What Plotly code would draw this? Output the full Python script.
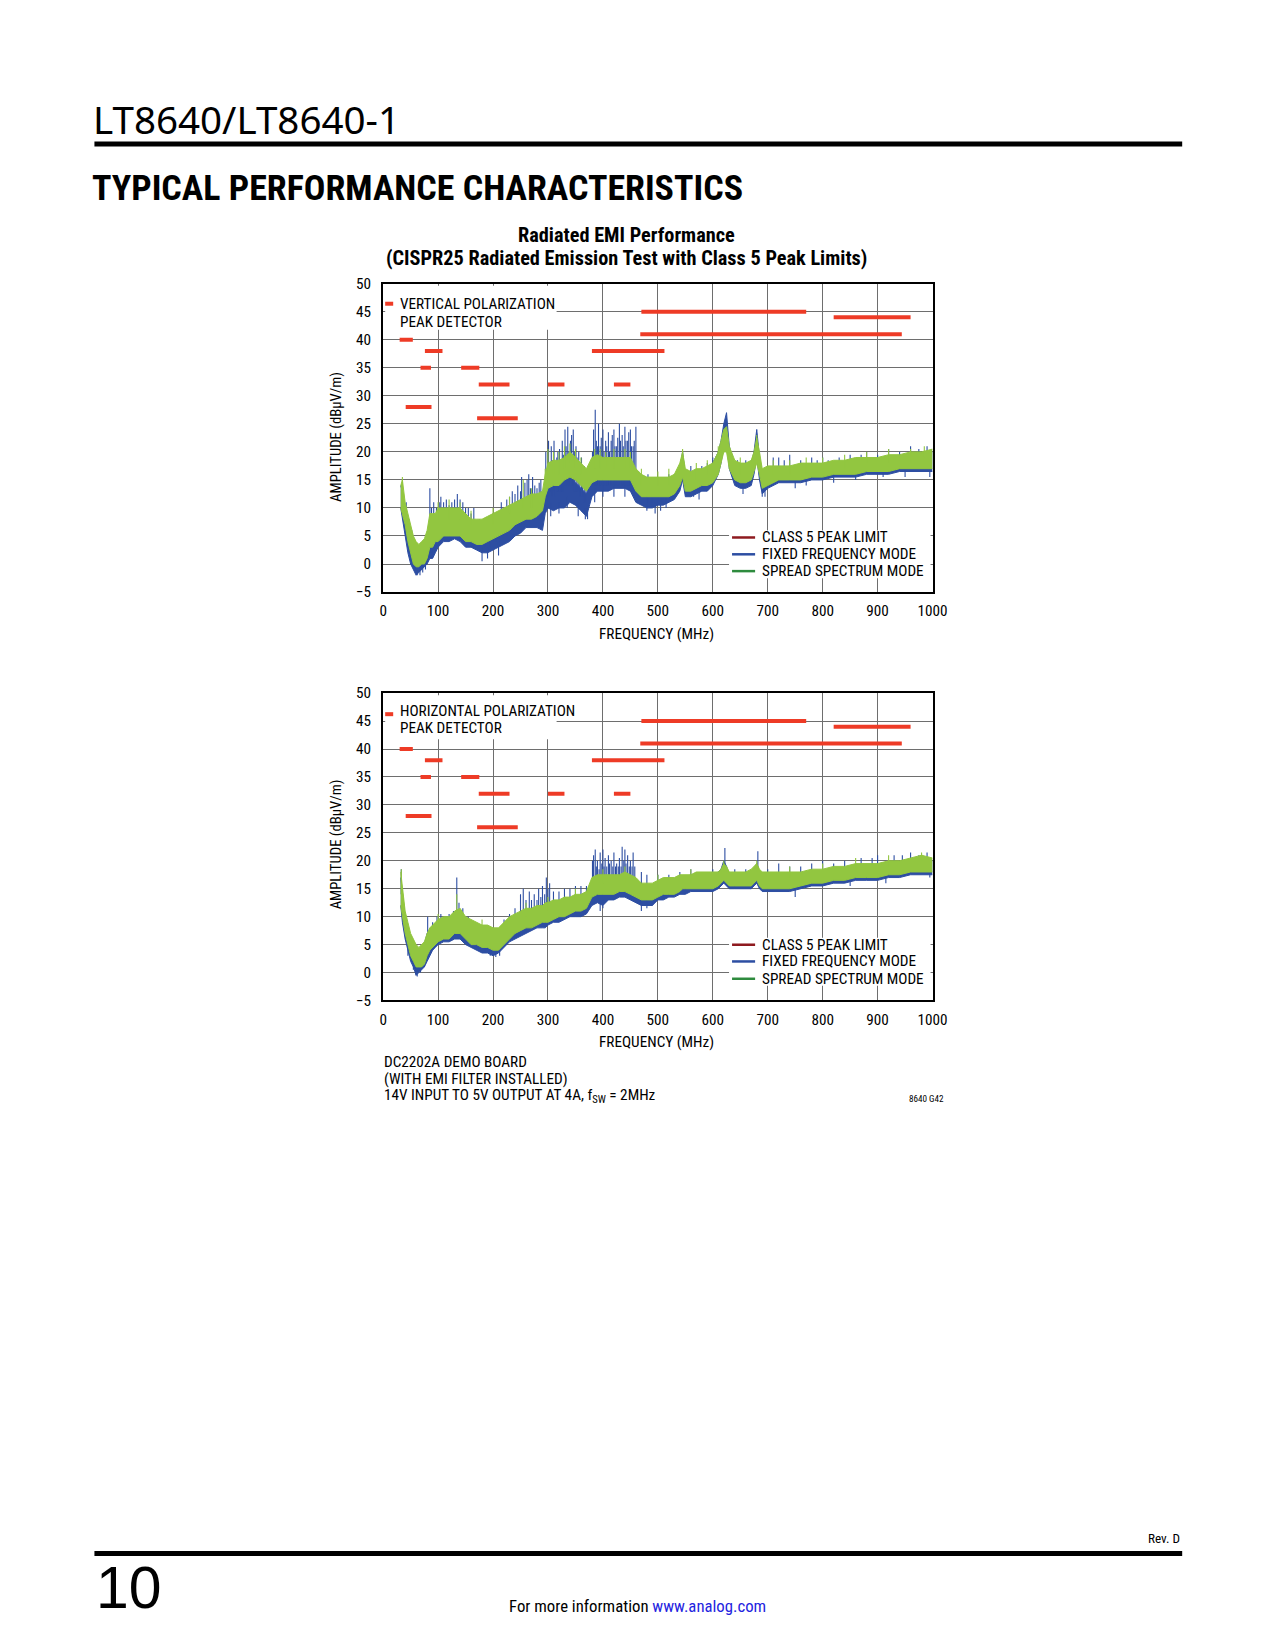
import plotly.graph_objects as go

# ---------------- data ----------------
FREQ = [32, 35, 40, 45, 50, 55, 60, 65, 70, 75, 80, 85, 90, 95, 100,
        110, 120, 130, 140, 150, 160, 170, 180, 190, 200, 210, 220, 230, 240, 250, 260, 270, 280, 290,
        295, 300, 310, 320, 330, 340, 350, 360, 370, 380, 390, 400, 410, 420, 430, 440, 450, 460,
        470, 480, 490, 500, 510, 520, 530, 540, 545, 550, 560, 570, 580, 590, 600, 610, 615, 620, 625, 630,
        640, 650, 660, 670, 675, 680, 685, 690, 700,
        720, 740, 760, 780, 800, 820, 840, 860, 880, 900, 920, 940, 960, 980, 1000]

# Vertical polarization - spread spectrum (green) envelope
V_SS_LO = [10, 9, 7, 4, 2, 0, -0.5, -0.5, 0, 0, 1, 3, 3, 4, 4,
           5, 5, 5, 5, 4, 4, 3.5, 3.5, 4, 4.5, 5, 5.5, 6, 7, 7.5, 8, 8, 8.5, 9.5,
           12, 13.5, 14, 14, 15, 15.5, 15, 14, 13, 14.5, 15, 15, 15, 15, 15, 15, 15, 13,
           12, 12, 12, 12, 12, 12, 12.5, 14, 15.5, 13, 13, 13.5, 14, 14, 14.5, 16, 18, 20, 20, 17,
           15, 14.5, 14.5, 15, 16.5, 18, 16, 13.5, 14,
           15, 15, 15, 15.5, 15.5, 16, 16, 16, 16.5, 16.5, 16.5, 17, 17, 17, 17]
V_SS_HI = [14, 15, 11, 9, 7, 5, 4, 3.5, 4, 4.5, 6, 9, 9, 9, 10,
           10, 10, 10, 10, 9, 8, 8, 8, 8.5, 9, 9.5, 10, 10.5, 11, 11.5, 12, 12.5, 12.5, 13,
           16, 18, 18.5, 18.5, 19, 20, 19, 18, 17, 19, 19.5, 19, 19, 19, 19, 19, 19, 17,
           16, 15.5, 15.5, 15.5, 15.5, 15.5, 16, 18, 20, 17, 16.5, 17, 17, 17.5, 18, 20, 22, 24, 24.5, 21,
           18.5, 18, 18, 18.5, 20, 22.5, 20, 17, 17.5,
           17.5, 17.5, 18, 18, 18, 18.5, 18.5, 19, 19, 19, 19.5, 19.5, 20, 20, 20.5]
# Vertical polarization - fixed frequency (blue) envelope
V_FF_LO = [10, 8, 5, 2, 0, -1, -2, -1.5, -1, -0.5, 0, 1, 1, 2, 3,
           4, 4, 4.5, 4, 3, 3, 2.5, 2, 2, 2.5, 3, 3.5, 4, 5, 5.5, 6.5, 6.5, 6.5, 6,
           9, 10, 9.5, 10, 10, 11, 10.5, 9.5, 8.5, 12, 13, 13, 13, 13.5, 13.5, 13.5, 13, 11,
           10.5, 10, 10, 10.5, 10.5, 11, 11.5, 13, 15, 12, 12, 12.5, 13, 13, 14, 16, 18, 21, 22, 17,
           14, 13.5, 13.5, 14, 16, 19, 15, 12.5, 13.5,
           14.5, 14.5, 14.5, 15, 15, 15.5, 15.5, 15.5, 16, 16, 16, 16.5, 16.5, 16.5, 16.5]
V_FF_HI = [14, 13, 10, 7, 5, 3, 2, 2, 2.5, 3, 4, 8, 7, 8, 9,
           9.5, 9.5, 10, 9.5, 8.5, 7.5, 6.5, 5.5, 5.5, 6, 6.5, 7, 8, 8.5, 9, 9.5, 9.5, 9.5, 9.5,
           14, 15, 14, 14.5, 15, 15.5, 14.5, 13.5, 12.5, 16, 16.5, 16.5, 16, 16.5, 16.5, 16.5, 16, 15,
           14, 13.5, 13, 13.5, 13.5, 14, 15, 17, 20, 16, 15.5, 16, 16.5, 17, 18, 20, 22, 25, 27, 21,
           17.5, 17, 17, 18, 20, 24, 19, 16, 17,
           17, 17, 17.5, 17.5, 17.5, 18, 18, 18.5, 18.5, 18.5, 19, 19, 19.5, 19.5, 20]

# Horizontal polarization - spread spectrum (green) envelope
H_SS_LO = [12, 10, 7, 5, 3, 2, 1, 1, 1, 1.5, 3, 4, 4.5, 5, 5.5,
           6, 6, 7, 7, 6, 5, 5, 4.5, 4.5, 4, 4, 5, 6, 7, 7.5, 8, 8, 8.5, 9,
           9, 9, 9.5, 10, 10, 10.5, 11, 11, 11.5, 13.5, 14, 14, 14, 14, 14.5, 14.5, 14, 13.5,
           13, 13, 13, 13.5, 14, 14, 14, 14.5, 15, 15, 15, 15, 15, 15, 15, 15.5, 16, 16.5, 16, 15.5,
           15.5, 15.5, 15.5, 15.5, 16, 16.5, 15.5, 15, 15,
           15, 15, 15.5, 16, 16, 16.5, 16.5, 17, 17, 17, 17.5, 17.5, 18, 18, 18]
H_SS_HI = [18, 15, 11, 9, 7, 6, 5, 4.5, 5, 5.5, 7, 8, 8.5, 9, 9.5,
           10, 10, 11, 11.5, 10, 9.5, 9, 8.5, 8.5, 8, 8, 9, 10, 10.5, 11, 11.5, 11.5, 12, 12,
           12.5, 12.5, 13, 13, 13.5, 13.5, 14, 14, 14.5, 17, 17.5, 17.5, 17.5, 17.5, 17.5, 18, 17.5, 17,
           16, 16, 16, 16.5, 17, 17, 17, 17.5, 17.5, 17.5, 17.5, 18, 18, 18, 18, 18, 18.5, 19.5, 19, 18,
           18, 18, 18, 18.5, 19, 19.5, 18.5, 18, 18,
           18, 18, 18, 18.5, 18.5, 19, 19, 19.5, 19.5, 19.5, 20, 20, 20.5, 21, 20.5]
# Horizontal polarization - fixed frequency (blue) envelope
H_FF_LO = [12, 9, 6, 4, 2, 1, -0.5, 0, 0.5, 1, 2, 3, 4, 4.5, 5,
           5.5, 5.5, 6, 6, 5, 4.5, 4, 3.5, 3.5, 3, 3.5, 4.5, 5.5, 6, 6.5, 7, 7.5, 8, 8,
           8, 8.5, 9, 9, 9.5, 10, 10, 10, 10.5, 12, 12.5, 12, 13, 13, 13.5, 13.5, 13, 12.5,
           12, 12, 12, 13, 13, 13.5, 13.5, 14, 14, 14, 14.5, 14.5, 14.5, 14.5, 14.5, 15, 15.5, 16, 15.5, 15,
           15, 15, 15, 15, 15.5, 16, 15, 14.5, 14.5,
           14.5, 14.5, 15, 15.5, 15.5, 16, 16, 16.5, 16.5, 16.5, 17, 17, 17.5, 17.5, 17.5]
H_FF_HI = [17, 14, 10, 8, 6, 5, 3.5, 3.5, 4, 5, 7, 7.5, 8, 8.5, 9,
           9.5, 9.5, 10.5, 10.5, 9, 8.5, 8, 7.5, 7.5, 7, 7, 8.5, 9.5, 10, 10.5, 11, 11, 11.5, 11.5,
           12, 12, 12, 12.5, 13, 13, 13.5, 13.5, 14, 16, 16.5, 16, 16.5, 17, 17, 17, 16.5, 16,
           15, 15, 15.5, 16, 16.5, 16.5, 16.5, 17, 17, 17, 17.5, 17.5, 17.5, 17.5, 17.5, 18, 18.5, 20, 19, 17.5,
           17.5, 17.5, 17.5, 18, 18.5, 19.5, 18, 17.5, 17.5,
           17.5, 17.5, 17.5, 18, 18, 18.5, 18.5, 19, 19, 19, 19.5, 19.5, 20, 20.5, 20]

# Narrow emission spikes / dips: (frequency MHz, foot dB, tip dB)
V_FF_SPIKES = [
    (42, 6, 11), (47, 3, 8), (52, 1, 6), (57, -1, 4), (62, -2, 3), (67, -2, 2.5), (72, -1.5, 3), (77, -1, 4),
    (85, 2, 13.5), (88, 2, 10), (92, 3, 11), (97, 4, 10),
    (103, 6, 11), (105, 6, 12), (110, 7, 11), (115, 7, 11.5), (120, 7, 10.5), (125, 7, 11), (130, 7, 11.5),
    (135, 8, 12.5), (140, 8, 11.5), (145, 7, 11), (150, 6, 10), (155, 6, 10), (160, 5, 9), (165, 5, 10),
    (175, 4, 8), (185, 3, 7.5), (195, 3, 8), (200, 4, 9), (205, 4, 8.5), (215, 5, 11), (220, 5, 10),
    (225, 5, 11.5), (230, 6, 12), (235, 6, 13), (240, 7, 12.5), (245, 7, 14), (250, 7, 13), (252, 8, 15.5),
    (258, 8, 14.5), (262, 8, 15), (265, 8, 16), (268, 8, 13.5), (272, 8, 15.5), (276, 8, 14), (280, 8, 13.5),
    (284, 8, 14.5), (287, 8, 15), (291, 8, 13),
    (180, 0.5, 3), (190, 1, 3), (210, 1.5, 4),
    (296, 12, 20), (298, 12, 17), (301, 13, 22), (303, 13, 18), (306, 13, 21), (308, 12, 18.5), (311, 13, 22),
    (313, 12, 17.5), (316, 13, 19), (318, 13, 20), (321, 13, 20.5), (323, 13, 18), (326, 13, 22), (328, 13, 19.5),
    (331, 14, 24), (333, 14, 21), (336, 14, 24.5), (338, 14, 20), (341, 14, 22), (343, 14, 23), (346, 14, 24),
    (348, 13, 20), (351, 13, 21), (353, 13, 19), (356, 13, 20), (358, 12, 18), (361, 12, 19), (363, 12, 17),
    (366, 11, 17.5), (369, 11, 16),
    (305, 8.5, 11), (320, 9, 11), (335, 10, 12), (355, 8.5, 11), (368, 8, 10), (372, 8, 10),
    (381, 14, 20), (383, 14, 24), (386, 14, 27.5), (388, 14, 22), (390, 14, 21), (392, 14, 25), (395, 14, 21),
    (397, 14, 22.5), (400, 14, 24), (402, 14, 20), (405, 14, 22), (407, 14, 21), (410, 14, 23.5), (412, 14, 20),
    (415, 14, 22), (417, 14, 23), (420, 14, 24), (422, 14, 21), (425, 14, 21), (427, 14, 22.5), (430, 14, 25),
    (432, 14, 22), (435, 14, 23), (437, 14, 21), (440, 14, 24.5), (442, 14, 22), (445, 14, 22), (447, 14, 23.5),
    (450, 14, 24), (452, 14, 21), (455, 14, 21), (457, 14, 22), (460, 14, 24.5),
    (385, 11, 13.5), (400, 12, 14), (420, 12, 14), (440, 12, 14),
    (465, 12, 16.5), (470, 12, 16), (476, 12, 15), (482, 11, 16), (490, 11, 14.5), (500, 11, 15.5),
    (510, 11, 15), (520, 12, 16), (530, 12, 16), (560, 14, 17.5), (565, 12, 16.5), (570, 14, 17),
    (580, 15, 17.5), (590, 15, 18), (600, 16, 19),
    (480, 9.5, 12), (495, 9, 11), (505, 9.5, 12), (515, 10, 12), (575, 11.5, 13.5),
    (645, 14, 18.5), (655, 12.5, 15), (660, 15, 18.5), (690, 12, 14), (695, 12, 14.5),
    (710, 16, 19), (720, 16, 19), (730, 15, 18.5), (740, 16, 19.5), (750, 13.5, 15.5), (760, 16, 18.5),
    (770, 14, 16), (780, 16, 19), (790, 16, 18.5), (800, 16, 19), (810, 16, 18.5), (820, 14.5, 16),
    (830, 17, 19), (850, 17, 19.5), (860, 15, 16.5), (870, 17, 19.5), (880, 17, 20), (900, 17, 19.5),
    (910, 15.5, 17), (920, 17.5, 20.5), (940, 18, 20), (950, 15.5, 17), (960, 18, 21), (975, 18, 20.5),
    (990, 18, 21), (995, 15.5, 17),
]
V_SS_SPIKES = [
    (35, 12, 15.5), (100, 8, 11), (120, 8, 11.5), (140, 8, 11), (160, 7, 9.5), (200, 7, 10), (230, 9, 12),
    (255, 10, 15), (270, 10, 13.5), (295, 14, 17), (300, 16, 20.5), (310, 16, 20), (320, 16, 20),
    (330, 17, 21), (340, 18, 21.5), (350, 17, 20.5), (360, 16, 19), (385, 17, 20.5), (395, 17, 20.5),
    (405, 17, 20), (420, 17, 20.5), (440, 17, 20.5), (450, 17, 20), (470, 14, 17), (500, 14, 16.5),
    (520, 14, 17), (545, 18, 20.5), (570, 15, 18), (590, 16, 18.5), (610, 18, 21), (650, 16, 19),
    (680, 20, 23), (710, 16, 18.5), (740, 16, 18.5), (770, 16, 19), (800, 17, 19), (840, 17, 19.5),
    (880, 18, 20), (920, 18, 20.5), (960, 18, 20.5), (985, 19, 21),
]
H_FF_SPIKES = [
    (33, 14, 18.5), (45, 3, 8), (55, 0.5, 5), (60, -0.5, 4), (62, -0.7, 3), (68, 0, 4), (75, 1, 5.5),
    (81, 5, 10), (90, 4, 9), (98, 5, 10), (105, 6, 10.5), (112, 6, 10), (120, 6, 10.5), (128, 7, 11),
    (134, 9, 17), (138, 8, 12.5), (145, 7, 11.5), (155, 6, 10), (165, 5, 9), (175, 4, 8.5), (185, 3.5, 8),
    (195, 3, 8), (205, 2.8, 7), (212, 3, 8), (220, 5, 9.5), (230, 6, 10.5), (240, 7, 11.5), (250, 8, 14),
    (255, 8, 15), (260, 8, 13), (266, 9, 14.5), (270, 9, 13), (275, 9, 14), (280, 9, 13), (283, 9, 15),
    (287, 10, 13.5), (290, 10, 15.5), (294, 10, 14), (297, 10, 17), (300, 10, 15), (303, 10, 16),
    (310, 11, 14.5), (320, 11, 14.5), (330, 11, 15), (340, 12, 15), (350, 12, 15.5), (360, 12, 15.5),
    (370, 12, 15.5),
    (381, 15, 20), (383, 15, 21), (386, 15, 22), (388, 15, 19), (390, 15, 20), (393, 15, 18.5), (395, 15, 21.5),
    (398, 15, 19.5), (400, 15, 22), (402, 15, 19), (404, 15, 20.5), (407, 15, 19), (410, 15, 21), (412, 15, 19.5),
    (415, 15, 20), (418, 15, 19), (420, 15, 21.5), (423, 15, 19), (425, 15, 19.5), (428, 15, 19), (430, 15, 20.5),
    (433, 15, 19), (435, 15, 22.5), (438, 15, 20), (440, 15, 22), (442, 15, 19.5), (445, 15, 21), (448, 15, 19),
    (450, 15, 20), (453, 15, 19), (455, 15, 21.5), (458, 15, 19),
    (395, 11, 13), (400, 11.5, 13), (470, 11, 13), (480, 11.5, 13), (490, 12, 14),
    (470, 15, 18), (480, 15, 17.5), (500, 15, 17.5), (520, 16, 17.5), (540, 16, 18), (560, 16, 18.5),
    (580, 16, 18), (600, 16, 18.5), (622, 18, 22.3), (640, 16, 18.5), (660, 16, 18.5), (682, 18, 21.7),
    (700, 16, 18.5), (720, 16, 19.5), (740, 16, 19), (750, 13.5, 15), (760, 16, 19), (780, 17, 19.5),
    (800, 17, 20), (820, 17, 19.5), (840, 17, 20), (850, 15.5, 16.5), (870, 18, 20.5), (890, 18, 20.5),
    (900, 18, 21), (915, 16, 17.5), (930, 18, 21), (945, 18, 21), (960, 19, 21.5), (975, 19, 21),
    (990, 19, 21.5), (995, 17, 18.5),
]
H_SS_SPIKES = [
    (33, 14, 18.5), (100, 8, 10.5), (134, 10, 14), (180, 7, 9.5), (260, 10, 12.5), (300, 11, 13.5),
    (350, 13, 15), (400, 16, 18.5), (440, 16, 19), (500, 15, 17.5), (560, 16, 18.5), (620, 18, 20),
    (680, 18, 20), (740, 17, 19), (800, 18, 19.5), (860, 18, 20.5), (920, 19, 21), (980, 20, 21.5),
]

# Class 5 peak limits (start MHz, stop MHz, level dBuV/m)
LIMIT_START = [30, 41, 68, 76, 142, 171, 174, 300, 380, 420, 468, 470, 820]
LIMIT_STOP = [54, 88, 87, 108, 175, 245, 230, 330, 512, 450, 944, 770, 960]
LIMIT_LEVEL = [40, 28, 35, 38, 35, 26, 32, 32, 38, 32, 41, 45, 44]

X_TICKS = [0, 100, 200, 300, 400, 500, 600, 700, 800, 900, 1000]
Y_TICKS = [-5, 0, 5, 10, 15, 20, 25, 30, 35, 40, 45, 50]

LEGEND_LABELS = ["CLASS 5 PEAK LIMIT", "FIXED FREQUENCY MODE", "SPREAD SPECTRUM MODE"]

# ---------------- styling ----------------
W, H = 1275, 1650
NARROW = "Liberation Sans Narrow, Arial Narrow, Roboto Condensed, sans-serif"
RED = "#EE3B26"
DARK_RED = "#8E1A1F"
BLUE = "#2D4EA2"
GREEN = "#92C640"
DARK_GREEN = "#2E8B3E"
GRID = "#6E6E6E"

# page-placement calibration (target page pixel -> figure pixel)
AX, BX = 4.8, 0.9826
AY, BY = 9.6, 0.988
FS = 1.015


def px(x):
    return ((x - AX) / BX) / W


def py(y):
    return 1 - ((y - AY) / BY) / H


fig = go.Figure()


def add_band(freq, lo, hi, color, xa, ya):
    fig.add_trace(go.Scatter(x=freq, y=lo, mode="lines", line=dict(color=color, width=1),
                             xaxis=xa, yaxis=ya, showlegend=False, hoverinfo="skip"))
    fig.add_trace(go.Scatter(x=freq, y=hi, mode="lines", line=dict(color=color, width=1),
                             fill="tonexty", fillcolor=color,
                             xaxis=xa, yaxis=ya, showlegend=False, hoverinfo="skip"))


def add_spikes(spikes, color, xa, ya, width=1.1):
    xs, ys = [], []
    for f, lo, hi in spikes:
        xs += [f, f, None]
        ys += [lo, hi, None]
    fig.add_trace(go.Scatter(x=xs, y=ys, mode="lines", line=dict(color=color, width=width),
                             xaxis=xa, yaxis=ya, showlegend=False, hoverinfo="skip"))


def add_limits(xa, ya):
    xs, ys = [], []
    for s, e, v in zip(LIMIT_START, LIMIT_STOP, LIMIT_LEVEL):
        xs += [s, e, None]
        ys += [v, v, None]
    fig.add_trace(go.Scatter(x=xs, y=ys, mode="lines", line=dict(color=RED, width=4),
                             xaxis=xa, yaxis=ya, showlegend=False, hoverinfo="skip"))


# top chart (vertical polarization)
add_band(FREQ, V_FF_LO, V_FF_HI, BLUE, "x", "y")
add_spikes(V_FF_SPIKES, BLUE, "x", "y")
add_band(FREQ, V_SS_LO, V_SS_HI, GREEN, "x", "y")
add_spikes(V_SS_SPIKES, GREEN, "x", "y")
add_limits("x", "y")

# bottom chart (horizontal polarization)
add_band(FREQ, H_FF_LO, H_FF_HI, BLUE, "x2", "y2")
add_spikes(H_FF_SPIKES, BLUE, "x2", "y2")
add_band(FREQ, H_SS_LO, H_SS_HI, GREEN, "x2", "y2")
add_spikes(H_SS_SPIKES, GREEN, "x2", "y2")
add_limits("x2", "y2")

axis_common = dict(showgrid=True, gridcolor=GRID, gridwidth=1, showline=True, linecolor="black",
                   linewidth=2, mirror=True, ticks="", zeroline=False, fixedrange=True,
                   tickfont=dict(family=NARROW, size=15 * FS, color="black"))

XDOM = [px(383), px(931)]
fig.update_layout(
    width=W, height=H, margin=dict(l=0, r=0, t=0, b=0),
    paper_bgcolor="white", plot_bgcolor="white", showlegend=False,
    xaxis=dict(domain=XDOM, anchor="y", range=[0, 1000], tickvals=X_TICKS, ticklabelstandoff=4, **axis_common),
    yaxis=dict(domain=[py(592), py(284)], anchor="x", range=[-5, 50], tickvals=Y_TICKS, ticklabelstandoff=7, **axis_common),
    xaxis2=dict(domain=XDOM, anchor="y2", range=[0, 1000], tickvals=X_TICKS, ticklabelstandoff=4, **axis_common),
    yaxis2=dict(domain=[py(1000), py(693)], anchor="x2", range=[-5, 50], tickvals=Y_TICKS, ticklabelstandoff=7, **axis_common),
)

shapes = []
ann = []


def text(x, y, s, size=15, family=NARROW, xanchor="left", color="black", bold=False, angle=0):
    if bold:
        s = "<b>" + s + "</b>"
    ann.append(dict(x=px(x), y=py(y), xref="paper", yref="paper", text=s, showarrow=False,
                    xanchor=xanchor, yanchor="middle", textangle=angle,
                    font=dict(family=family, size=size * FS, color=color)))


def rect(x0, y0, x1, y1, color, layer="above"):
    shapes.append(dict(type="rect", xref="paper", yref="paper", x0=px(x0), x1=px(x1),
                       y0=py(y1), y1=py(y0), fillcolor=color, line=dict(width=0), layer=layer))


def hline(x0, x1, y, color, width):
    shapes.append(dict(type="line", xref="paper", yref="paper", x0=px(x0), x1=px(x1),
                       y0=py(y), y1=py(y), line=dict(color=color, width=width), layer="above"))


# page header / footer
text(92, 119, "LT8640/LT8640-1", size=38, family="Noto Sans, Lato, sans-serif")
rect(95, 142, 1180, 147, "black")
text(91, 188, "TYPICAL PERFORMANCE CHARACTERISTICS", size=35.4, bold=True)
text(1180, 1537, "Rev. D", size=13, xanchor="right")
rect(95, 1550, 1180, 1555, "black")
text(95, 1586, "10", size=58, family="Liberation Sans, Arial, sans-serif")
text(637, 1605, "For more information <span style='color:#2323E0'>www.analog.com</span>", size=16.5, xanchor="center")

# chart title
text(626, 235, "Radiated EMI Performance", size=20, xanchor="center", bold=True)
text(626, 258, "(CISPR25 Radiated Emission Test with Class 5 Peak Limits)", size=20, xanchor="center", bold=True)

# axis titles
for (yc, xt) in [(437, 634), (844, 1041)]:
    text(336, yc, "AMPLITUDE (dBμV/m)", size=14.5, xanchor="center", angle=-90)
    text(656, xt, "FREQUENCY (MHz)", size=15, xanchor="center")

# in-plot legends
for (top, l1, l2, dash_y, lab) in [(286, 304, 322, 304, "VERTICAL POLARIZATION"),
                                   (695, 711, 728, 714, "HORIZONTAL POLARIZATION")]:
    rect(385, top, 556, top + 44, "white")
    hline(385, 393, dash_y, RED, 4)
    text(398, l1, lab, size=15)
    text(398, l2, "PEAK DETECTOR", size=15)

for ys in [(537.5, 554.3, 571.1), (944.3, 961.0, 978.3)]:
    rect(728, ys[0] - 7, 929, ys[2] + 7, "white")
    for yy, col, lab in zip(ys, [DARK_RED, BLUE, DARK_GREEN], LEGEND_LABELS):
        hline(731, 754, yy, col, 2.5)
        text(759, yy, lab, size=15)

# notes
text(382, 1061, "DC2202A DEMO BOARD", size=15)
text(382, 1078, "(WITH EMI FILTER INSTALLED)", size=15)
text(382, 1095, "14V INPUT TO 5V OUTPUT AT 4A, f<sub>SW</sub> = 2MHz", size=15)
text(944, 1098, "8640 G42", size=9, xanchor="right")

fig.update_layout(shapes=shapes, annotations=ann)
fig.write_html("out.html", config={"displayModeBar": False},
               post_script="document.body.style.margin='0px';document.body.style.padding='0px';"
                           "document.body.style.overflow='hidden';")
